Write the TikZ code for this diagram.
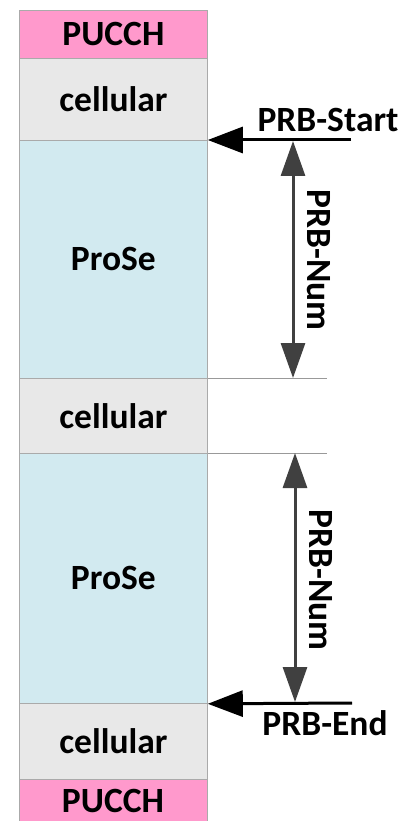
\documentclass[tikz,border=0pt]{standalone}
\usepackage{fontspec}
\setmainfont{Carlito}
\usetikzlibrary{arrows.meta}
\definecolor{pucchpink}{RGB}{255,153,204}
\definecolor{cellgray}{RGB}{232,232,232}
\definecolor{proseblue}{RGB}{210,234,240}
\definecolor{edgegray}{RGB}{170,170,170}
\definecolor{arrowgray}{RGB}{64,64,64}
\tikzset{
  band/.style={draw=edgegray, line width=0.8pt, minimum width=188pt, anchor=north west,
    inner sep=0pt, font=\fontsize{35.5}{40}\selectfont\bfseries},
  pucch/.style={band, fill=pucchpink},
  cell/.style={band, fill=cellgray},
  prose/.style={band, fill=proseblue},
  lbl/.style={font=\fontsize{35.5}{40}\selectfont\bfseries, inner sep=0pt},
  marker/.style={black, line width=3pt, -{Triangle[length=35pt,width=26pt]}},
  span/.style={arrowgray, line width=3pt, {Triangle[length=35pt,width=24pt]}-{Triangle[length=35pt,width=24pt]}},
  rule/.style={draw=gray!80, line width=0.8pt}
}
\begin{document}
\begin{tikzpicture}[x=1pt,y=-1pt]
\useasboundingbox (0,0) rectangle (408,821);
\clip (0,0) rectangle (408,821);
% stacked resource bands
\node[pucch, minimum height=48pt] (p1) at (19,10) {PUCCH};
\node[cell,  minimum height=82pt] (c1) at (19,58) {cellular};
\node[prose, minimum height=238pt] (s1) at (19,140) {ProSe};
\node[cell,  minimum height=75pt] (c2) at (19,378) {cellular};
\node[prose, minimum height=250pt] (s2) at (19,453) {ProSe};
\node[cell,  minimum height=76pt] (c3) at (19,703) {cellular};
\node[pucch, minimum height=60pt] (p2) at (19,779) {};
\node[lbl] at (113,801) {PUCCH};
% boundary rules
\coordinate (r1) at (327,378);
\coordinate (r2) at (327,453);
\draw[rule] (c2.north east) -- (r1);
\draw[rule] (s2.north east) -- (r2);
% start / end markers
\coordinate (st) at (351,140);
\coordinate (en) at (352,703);
\draw[marker] (st) -- (s1.north east);
\draw[marker] (en) -- (s2.south east);
\node[lbl] (stl) at (328,120) {PRB-Start};
\node[lbl] (enl) at (325,723) {PRB-End};
% spans
\coordinate (a1) at (293,141);
\coordinate (b1) at (293,378);
\coordinate (a2) at (295,453);
\coordinate (b2) at (295,702);
\draw[span] (a1) -- (b1);
\draw[span] (a2) -- (b2);
\node[lbl, rotate=-90] at (319,260) {PRB-Num};
\node[lbl, rotate=-90] at (321,580) {PRB-Num};
\end{tikzpicture}
\end{document}
